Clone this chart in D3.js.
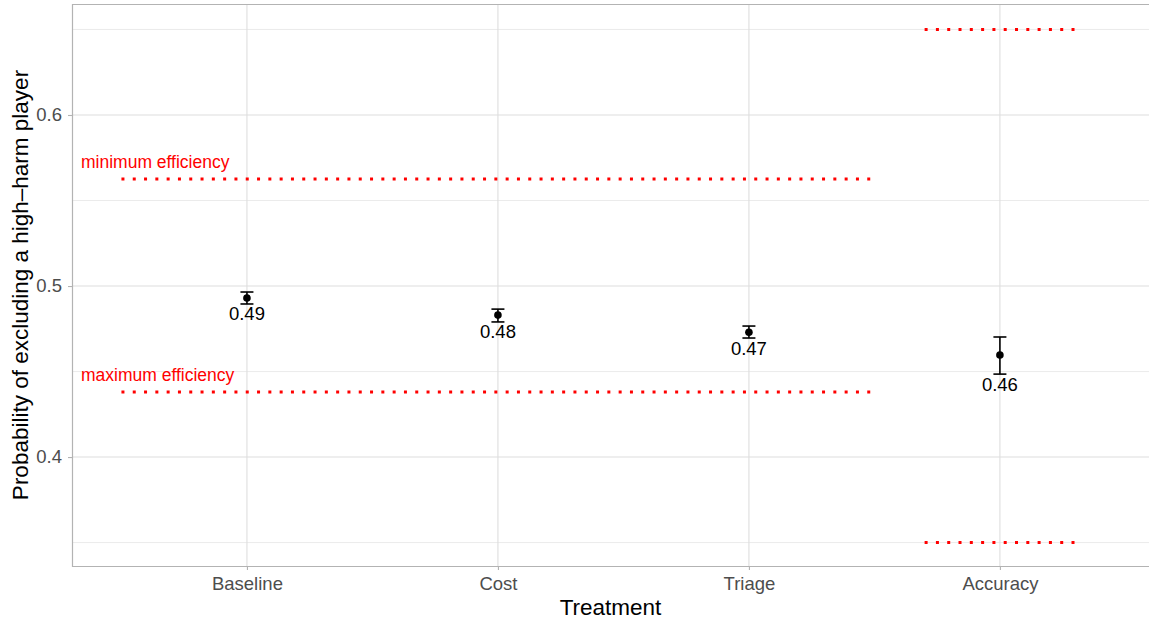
<!DOCTYPE html>
<html>
<head>
<meta charset="utf-8">
<script src="https://cdn.jsdelivr.net/npm/d3@7"></script>
<style>
  html, body { margin: 0; padding: 0; background: #fff; }
  svg { display: block; font-family: "Liberation Sans", Arial, Helvetica, sans-serif; }
</style>
</head>
<body>
<svg id="chart" width="1149" height="620"></svg>
<script>
// Treatments and estimated probabilities with confidence bounds
const treatments = ["Baseline", "Cost", "Triage", "Accuracy"];
const estimates  = [0.493, 0.483, 0.473, 0.4597];
const lowerCI    = [0.4895, 0.479, 0.4696, 0.4485];
const upperCI    = [0.4965, 0.4865, 0.4766, 0.4702];

// Reference lines and their spans in category-index units
const refLabels = ["minimum efficiency", "maximum efficiency"];
const refValues = [0.5626, 0.438];
const refSpan   = [0.5, 3.5];
const accuracyBounds = [0.65, 0.35];
const accuracySpan   = [3.7, 4.3];

const yMajorTicks = [0.4, 0.5, 0.6];
const yMinorTicks = [0.35, 0.45, 0.55, 0.65];

const svg = d3.select("#chart");
const margin = { left: 72, right: 0, top: 4, bottom: 54 };
const W = 1149, H = 620;
const x0 = margin.left, x1 = W - margin.right;
const y0 = margin.top, y1 = H - margin.bottom;

const x = d3.scaleLinear().domain([0.303, 4.594]).range([x0, x1]);
const y = d3.scaleLinear().domain([0.3363, 0.6649]).range([y1, y0]);

const grid = svg.append("g");
// minor horizontal grid
grid.selectAll(".minor").data(yMinorTicks).join("line")
  .attr("x1", x0).attr("x2", x1)
  .attr("y1", d => y(d)).attr("y2", d => y(d))
  .attr("stroke", "#e6e6e6").attr("stroke-width", 0.8);
// major horizontal grid
grid.selectAll(".major").data(yMajorTicks).join("line")
  .attr("x1", x0).attr("x2", x1)
  .attr("y1", d => y(d)).attr("y2", d => y(d))
  .attr("stroke", "#dedede").attr("stroke-width", 1.1);
// vertical grid at categories
grid.selectAll(".vgrid").data(treatments).join("line")
  .attr("x1", (d, i) => x(i + 1)).attr("x2", (d, i) => x(i + 1))
  .attr("y1", y0).attr("y2", y1)
  .attr("stroke", "#dedede").attr("stroke-width", 1.1);

// panel border (left, top, bottom)
svg.append("path")
  .attr("d", `M${x1},${y0 + 0.5}H${x0 + 0.5}V${y1 + 0.5}H${x1}`)
  .attr("fill", "none").attr("stroke", "#b3b3b3").attr("stroke-width", 1.2);

// axes
const yAxis = d3.axisLeft(y).tickValues(yMajorTicks).tickFormat(d3.format(".1f")).tickSize(4).tickPadding(6);
const gy = svg.append("g").attr("transform", `translate(${x0},0)`).call(yAxis);
gy.select(".domain").remove();
gy.selectAll(".tick line").attr("stroke", "#b3b3b3").attr("stroke-width", 1.1);
gy.selectAll(".tick text").attr("fill", "#4d4d4d").style("font-size", "18.5px");

const xAxis = d3.axisBottom(x).tickValues([1, 2, 3, 4]).tickFormat(d => treatments[d - 1]).tickSize(4).tickPadding(7);
const gx = svg.append("g").attr("transform", `translate(0,${y1})`).call(xAxis);
gx.select(".domain").remove();
gx.selectAll(".tick line").attr("stroke", "#b3b3b3").attr("stroke-width", 1.1);
gx.selectAll(".tick text").attr("fill", "#4d4d4d").style("font-size", "18.5px");

// reference dotted lines
const dotted = { stroke: "#ff0000", width: 3, dash: "3 8.3" };
svg.selectAll(".ref").data(refValues).join("line")
  .attr("x1", x(refSpan[0])).attr("x2", x(refSpan[1]))
  .attr("y1", d => y(d)).attr("y2", d => y(d))
  .attr("stroke", dotted.stroke).attr("stroke-width", dotted.width)
  .attr("stroke-dasharray", dotted.dash);
svg.selectAll(".refacc").data(accuracyBounds).join("line")
  .attr("x1", x(accuracySpan[0])).attr("x2", x(accuracySpan[1]) + 3)
  .attr("y1", d => y(d)).attr("y2", d => y(d))
  .attr("stroke", dotted.stroke).attr("stroke-width", dotted.width)
  .attr("stroke-dasharray", dotted.dash);
svg.selectAll(".reflab").data(refLabels).join("text")
  .attr("x", 81).attr("y", (d, i) => y(refValues[i]) - 11)
  .attr("fill", "#ff0000").style("font-size", "17.5px")
  .text(d => d);

// error bars, points and value labels
const pts = svg.append("g");
treatments.forEach((t, i) => {
  const cx = x(i + 1);
  const g = pts.append("g");
  g.append("line").attr("x1", cx).attr("x2", cx)
    .attr("y1", y(upperCI[i])).attr("y2", y(lowerCI[i]))
    .attr("stroke", "#000").attr("stroke-width", 1.6);
  [upperCI[i], lowerCI[i]].forEach(v => {
    g.append("line").attr("x1", cx - 6.5).attr("x2", cx + 6.5)
      .attr("y1", y(v)).attr("y2", y(v))
      .attr("stroke", "#000").attr("stroke-width", 1.6);
  });
  g.append("circle").attr("cx", cx).attr("cy", y(estimates[i])).attr("r", 3.8).attr("fill", "#000");
  g.append("text").attr("x", cx).attr("y", y(lowerCI[i]) + 16.5)
    .attr("text-anchor", "middle").attr("fill", "#000").style("font-size", "18.5px")
    .text(d3.format(".2f")(estimates[i]));
});

// axis titles
svg.append("text").attr("x", (x0 + x1) / 2).attr("y", 615)
  .attr("text-anchor", "middle").style("font-size", "22.5px").attr("fill", "#000")
  .text("Treatment");
svg.append("text")
  .attr("transform", `translate(28,${(y0 + y1) / 2}) rotate(-90)`)
  .attr("text-anchor", "middle").style("font-size", "22.5px").attr("fill", "#000")
  .text("Probability of excluding a high\u2013harm player");
</script>
</body>
</html>
